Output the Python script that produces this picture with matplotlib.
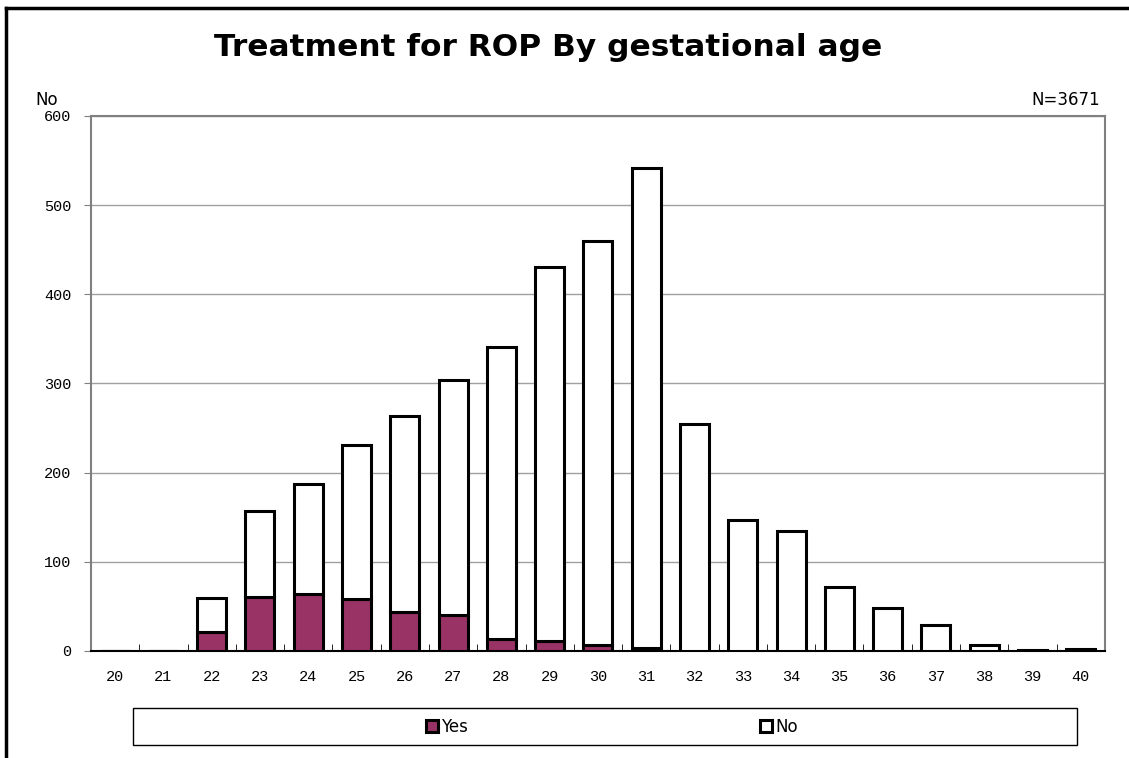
import matplotlib.pyplot as plt
import matplotlib.patches as mpatches
import numpy as np

# Data
ages = list(range(20, 41))
yes = [0, 0, 21, 61, 64, 58, 44, 40, 13, 11, 7, 3, 0, 0, 0, 0, 0, 0, 0, 0, 0]
total = [0, 0, 59, 157, 187, 231, 264, 304, 341, 431, 460, 542, 254, 147, 135, 72, 48, 29, 7, 1, 2]
no = [t - y for t, y in zip(total, yes)]

fig = plt.figure(figsize=(11.29, 7.58), dpi=100)
ax = fig.add_axes([0.0806, 0.1412, 0.898, 0.7058])

x = np.array(ages)
ax.bar(x, yes, width=0.6, color='#993366', edgecolor='black', linewidth=2.2, label='Yes', zorder=3)
ax.bar(x, no, width=0.6, bottom=yes, color='white', edgecolor='black', linewidth=2.2, label='No', zorder=3)

ax.set_xlim(19.5, 40.5)
ax.set_ylim(0, 600)
ax.set_yticks(range(0, 601, 100))
ax.yaxis.grid(True, color='#a0a0a0', linewidth=1)
ax.set_axisbelow(True)

ax.set_xticks(ages)
ax.set_xticklabels([str(a) for a in ages], family='Liberation Mono', fontsize=11)
ax.set_xticks(np.arange(20.5, 40, 1), minor=True)
ax.tick_params(axis='x', which='major', length=0, pad=14)
ax.tick_params(axis='x', which='minor', direction='in', length=5, color='black')
ax.tick_params(axis='y', length=5, color='#808080', pad=9)
for lbl in ax.get_yticklabels():
    lbl.set_family('Liberation Mono')
    lbl.set_fontsize(11)

for s in ['top', 'right', 'left']:
    ax.spines[s].set_color('#808080')
    ax.spines[s].set_linewidth(1.5)
ax.spines['bottom'].set_color('black')
ax.spines['bottom'].set_linewidth(1.5)

fig.text(548 / 1129, 1 - 47 / 758, 'Treatment for ROP By gestational age',
         ha='center', va='center', fontsize=22.5, fontweight='bold')
fig.text(35 / 1129, 1 - 100 / 758, 'No', ha='left', va='center', fontsize=12)
fig.text(1100 / 1129, 1 - 100 / 758, 'N=3671', ha='right', va='center', fontsize=12)

# legend box
fig.patches.append(mpatches.Rectangle((133 / 1129, 1 - 745 / 758), (1077 - 133) / 1129, 37 / 758,
                                      transform=fig.transFigure, facecolor='white',
                                      edgecolor='black', linewidth=1))
fig.legend(loc='center', bbox_to_anchor=(612 / 1129, 1 - 727 / 758), ncol=2, frameon=False,
           fontsize=12, handlelength=0.7, handleheight=0.7, handletextpad=0.2,
           columnspacing=17.5)

# outer frame (top and left)
fig.add_artist(plt.Line2D([6 / 1129, 6 / 1129], [0, 1 - 8 / 758], transform=fig.transFigure,
                          color='black', linewidth=2.5))
fig.add_artist(plt.Line2D([6 / 1129, 1], [1 - 8 / 758, 1 - 8 / 758], transform=fig.transFigure,
                          color='black', linewidth=2.5))

fig.savefig('out.png', dpi=100)
